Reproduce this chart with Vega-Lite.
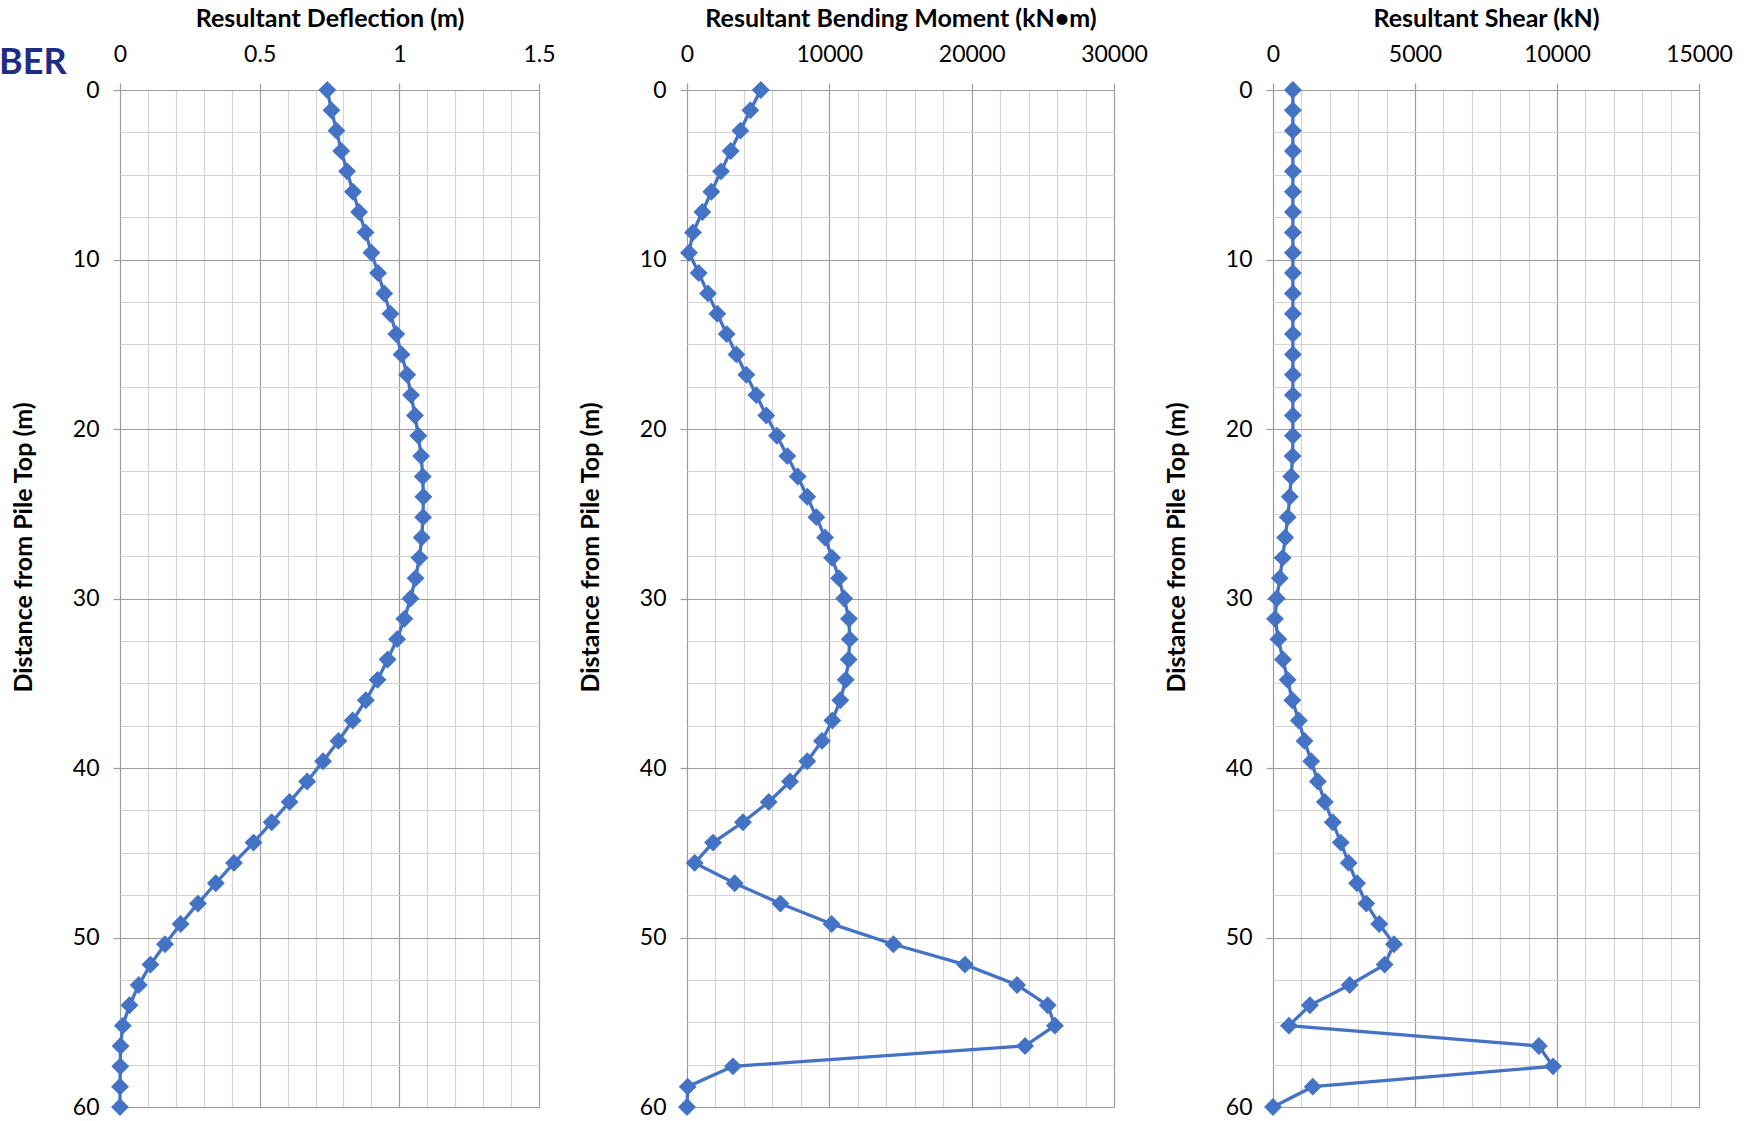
{
  "$schema": "https://vega.github.io/schema/vega-lite/v6.json",
  "autosize": {"type": "none"},
  "padding": {"left": 120, "top": 90, "right": 1636, "bottom": 1031},
  "background": "white",
  "bounds": "flush",
  "spacing": 148,
  "title": {"text": "BER", "anchor": "start", "frame": "group", "orient": "top", "offset": 0, "dx": -121, "dy": 93, "baseline": "middle", "fontSize": 36, "font": "Liberation Sans Narrow, Lato", "fontWeight": "bold", "color": "#1F2C86"},
  "data": {"values": [
    {"depth": 0, "defl": 0.742, "moment": 5180, "shear": 700},
    {"depth": 1.2, "defl": 0.757, "moment": 4450, "shear": 700},
    {"depth": 2.4, "defl": 0.775, "moment": 3750, "shear": 700},
    {"depth": 3.6, "defl": 0.792, "moment": 3070, "shear": 700},
    {"depth": 4.8, "defl": 0.813, "moment": 2390, "shear": 700},
    {"depth": 6.0, "defl": 0.834, "moment": 1710, "shear": 700},
    {"depth": 7.2, "defl": 0.856, "moment": 1080, "shear": 700},
    {"depth": 8.4, "defl": 0.879, "moment": 420, "shear": 700},
    {"depth": 9.6, "defl": 0.900, "moment": 140, "shear": 700},
    {"depth": 10.8, "defl": 0.924, "moment": 820, "shear": 700},
    {"depth": 12.0, "defl": 0.946, "moment": 1475, "shear": 700},
    {"depth": 13.2, "defl": 0.968, "moment": 2130, "shear": 700},
    {"depth": 14.4, "defl": 0.989, "moment": 2790, "shear": 700},
    {"depth": 15.6, "defl": 1.008, "moment": 3470, "shear": 700},
    {"depth": 16.8, "defl": 1.028, "moment": 4170, "shear": 700},
    {"depth": 18.0, "defl": 1.042, "moment": 4870, "shear": 700},
    {"depth": 19.2, "defl": 1.056, "moment": 5570, "shear": 700},
    {"depth": 20.4, "defl": 1.068, "moment": 6320, "shear": 700},
    {"depth": 21.6, "defl": 1.078, "moment": 7050, "shear": 690},
    {"depth": 22.8, "defl": 1.084, "moment": 7780, "shear": 640},
    {"depth": 24.0, "defl": 1.086, "moment": 8450, "shear": 590},
    {"depth": 25.2, "defl": 1.085, "moment": 9090, "shear": 520},
    {"depth": 26.4, "defl": 1.080, "moment": 9700, "shear": 430},
    {"depth": 27.6, "defl": 1.072, "moment": 10190, "shear": 340},
    {"depth": 28.8, "defl": 1.058, "moment": 10680, "shear": 240},
    {"depth": 30.0, "defl": 1.040, "moment": 11040, "shear": 130},
    {"depth": 31.2, "defl": 1.018, "moment": 11380, "shear": 70},
    {"depth": 32.4, "defl": 0.992, "moment": 11430, "shear": 190},
    {"depth": 33.6, "defl": 0.958, "moment": 11360, "shear": 350},
    {"depth": 34.8, "defl": 0.922, "moment": 11150, "shear": 515},
    {"depth": 36.0, "defl": 0.880, "moment": 10770, "shear": 680},
    {"depth": 37.2, "defl": 0.833, "moment": 10210, "shear": 910},
    {"depth": 38.4, "defl": 0.782, "moment": 9480, "shear": 1110},
    {"depth": 39.6, "defl": 0.727, "moment": 8450, "shear": 1345},
    {"depth": 40.8, "defl": 0.670, "moment": 7240, "shear": 1580},
    {"depth": 42.0, "defl": 0.607, "moment": 5740, "shear": 1825},
    {"depth": 43.2, "defl": 0.543, "moment": 3930, "shear": 2105},
    {"depth": 44.4, "defl": 0.478, "moment": 1830, "shear": 2385},
    {"depth": 45.6, "defl": 0.408, "moment": 540, "shear": 2665},
    {"depth": 46.8, "defl": 0.343, "moment": 3350, "shear": 2960},
    {"depth": 48.0, "defl": 0.279, "moment": 6560, "shear": 3285},
    {"depth": 49.2, "defl": 0.217, "moment": 10160, "shear": 3740},
    {"depth": 50.4, "defl": 0.161, "moment": 14500, "shear": 4260},
    {"depth": 51.6, "defl": 0.109, "moment": 19530, "shear": 3930},
    {"depth": 52.8, "defl": 0.067, "moment": 23190, "shear": 2700},
    {"depth": 54.0, "defl": 0.034, "moment": 25340, "shear": 1300},
    {"depth": 55.2, "defl": 0.010, "moment": 25850, "shear": 560},
    {"depth": 56.4, "defl": 0.002, "moment": 23750, "shear": 9360},
    {"depth": 57.6, "defl": 0.001, "moment": 3230, "shear": 9860},
    {"depth": 58.8, "defl": 0.0, "moment": 50, "shear": 1400},
    {"depth": 60.0, "defl": 0.0, "moment": 0, "shear": 0}
  ]},
  "hconcat": [
    {
      "width": 419,
      "height": 1017,
      "encoding": {
        "x": {"field": "defl", "type": "quantitative",
          "scale": {"domain": [0, 1.5], "nice": false, "zero": false},
          "axis": {"orient": "top", "title": "Resultant Deflection (m)",
            "values": [0, 0.1, 0.2, 0.3, 0.4, 0.5, 0.6, 0.7, 0.8, 0.9, 1, 1.1, 1.2, 1.3, 1.4, 1.5],
            "format": "~g",
            "labelExpr": "abs(datum.value*2-round(datum.value*2))<1e-6 ? datum.label : ''",
            "gridColor": {"condition": {"test": "abs(datum.value*2-round(datum.value*2))<1e-6", "value": "#9c9c9c"}, "value": "#d4d4d4"},
            "tickColor": {"condition": {"test": "abs(datum.value*2-round(datum.value*2))<1e-6", "value": "#9c9c9c"}, "value": "transparent"}}},
        "y": {"field": "depth", "type": "quantitative",
          "scale": {"domain": [0, 60], "reverse": true, "nice": false, "zero": false},
          "axis": {"title": "Distance from Pile Top (m)",
            "values": [0, 2.5, 5, 7.5, 10, 12.5, 15, 17.5, 20, 22.5, 25, 27.5, 30, 32.5, 35, 37.5, 40, 42.5, 45, 47.5, 50, 52.5, 55, 57.5, 60],
            "format": "~g",
            "labelExpr": "datum.value % 10 === 0 ? datum.label : ''",
            "gridColor": {"condition": {"test": "datum.value % 10 === 0", "value": "#9c9c9c"}, "value": "#d4d4d4"},
            "tickColor": {"condition": {"test": "datum.value % 10 === 0", "value": "#9c9c9c"}, "value": "transparent"}}},
        "order": {"field": "depth", "type": "quantitative"}
      },
      "layer": [
        {"mark": {"type": "line", "color": "#4472C4", "strokeWidth": 3.3}},
        {"mark": {"type": "point", "shape": "diamond", "filled": true, "color": "#4472C4", "size": 320, "opacity": 1}}
      ]
    },
    {
      "bounds": "flush",
      "spacing": 159,
      "hconcat": [
        {
          "width": 427,
          "height": 1017,
          "encoding": {
            "x": {"field": "moment", "type": "quantitative",
              "scale": {"domain": [0, 30000], "nice": false, "zero": false},
              "axis": {"orient": "top", "title": "Resultant Bending Moment (kN•m)",
                "values": [0, 2000, 4000, 6000, 8000, 10000, 12000, 14000, 16000, 18000, 20000, 22000, 24000, 26000, 28000, 30000],
                "format": "d",
                "labelExpr": "datum.value % 10000 === 0 ? datum.label : ''",
                "gridColor": {"condition": {"test": "datum.value % 10000 === 0", "value": "#9c9c9c"}, "value": "#d4d4d4"},
                "tickColor": {"condition": {"test": "datum.value % 10000 === 0", "value": "#9c9c9c"}, "value": "transparent"}}},
            "y": {"field": "depth", "type": "quantitative",
              "scale": {"domain": [0, 60], "reverse": true, "nice": false, "zero": false},
              "axis": {"title": "Distance from Pile Top (m)",
                "values": [0, 2.5, 5, 7.5, 10, 12.5, 15, 17.5, 20, 22.5, 25, 27.5, 30, 32.5, 35, 37.5, 40, 42.5, 45, 47.5, 50, 52.5, 55, 57.5, 60],
                "format": "~g",
                "labelExpr": "datum.value % 10 === 0 ? datum.label : ''",
                "gridColor": {"condition": {"test": "datum.value % 10 === 0", "value": "#9c9c9c"}, "value": "#d4d4d4"},
                "tickColor": {"condition": {"test": "datum.value % 10 === 0", "value": "#9c9c9c"}, "value": "transparent"}}},
            "order": {"field": "depth", "type": "quantitative"}
          },
          "layer": [
            {"mark": {"type": "line", "color": "#4472C4", "strokeWidth": 3.3}},
            {"mark": {"type": "point", "shape": "diamond", "filled": true, "color": "#4472C4", "size": 320, "opacity": 1}}
          ]
        },
        {
          "width": 426,
          "height": 1017,
          "encoding": {
            "x": {"field": "shear", "type": "quantitative",
              "scale": {"domain": [0, 15000], "nice": false, "zero": false},
              "axis": {"orient": "top", "title": "Resultant Shear (kN)",
                "values": [0, 1000, 2000, 3000, 4000, 5000, 6000, 7000, 8000, 9000, 10000, 11000, 12000, 13000, 14000, 15000],
                "format": "d",
                "labelExpr": "datum.value % 5000 === 0 ? datum.label : ''",
                "gridColor": {"condition": {"test": "datum.value % 5000 === 0", "value": "#9c9c9c"}, "value": "#d4d4d4"},
                "tickColor": {"condition": {"test": "datum.value % 5000 === 0", "value": "#9c9c9c"}, "value": "transparent"}}},
            "y": {"field": "depth", "type": "quantitative",
              "scale": {"domain": [0, 60], "reverse": true, "nice": false, "zero": false},
              "axis": {"title": "Distance from Pile Top (m)",
                "values": [0, 2.5, 5, 7.5, 10, 12.5, 15, 17.5, 20, 22.5, 25, 27.5, 30, 32.5, 35, 37.5, 40, 42.5, 45, 47.5, 50, 52.5, 55, 57.5, 60],
                "format": "~g",
                "labelExpr": "datum.value % 10 === 0 ? datum.label : ''",
                "gridColor": {"condition": {"test": "datum.value % 10 === 0", "value": "#9c9c9c"}, "value": "#d4d4d4"},
                "tickColor": {"condition": {"test": "datum.value % 10 === 0", "value": "#9c9c9c"}, "value": "transparent"}}},
            "order": {"field": "depth", "type": "quantitative"}
          },
          "layer": [
            {"mark": {"type": "line", "color": "#4472C4", "strokeWidth": 3.3}},
            {"mark": {"type": "point", "shape": "diamond", "filled": true, "color": "#4472C4", "size": 320, "opacity": 1}}
          ]
        }
      ]
    }
  ],
  "config": {
    "font": "Lato",
    "view": {"stroke": null},
    "axis": {
      "domain": false,
      "grid": true,
      "gridWidth": 1.2,
      "tickSize": 7,
      "tickWidth": 1.2,
      "labelFontSize": 23,
      "labelColor": "#000000",
      "labelOverlap": false,
      "labelFlush": false,
      "labelBound": false,
      "titleFontSize": 25,
      "titleFontWeight": "bold",
      "titleColor": "#000000"
    },
    "axisX": {"labelPadding": 17, "titlePadding": 12},
    "axisY": {"labelPadding": 14, "titlePadding": 36, "titleY": 457}
  }
}
